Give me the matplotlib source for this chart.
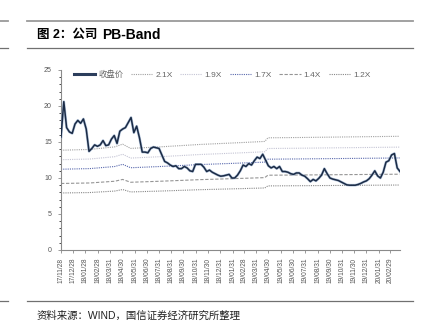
import pandas as pd
import matplotlib.pyplot as plt
from matplotlib.lines import Line2D
from matplotlib.ticker import MultipleLocator

plt.rcParams['font.family'] = ['Liberation Sans', 'Noto Sans CJK SC', 'DejaVu Sans']

# weekly closing price
price_start = '2017-11-28'
close_price = [
    15.7, 20.6, 17.0, 16.4, 16.2, 17.5, 18.0, 17.6, 18.2, 16.8,
    13.7, 14.1, 14.6, 14.4, 14.6, 15.2, 14.5, 14.6, 15.4, 15.9,
    14.8, 16.5, 16.8, 17.0, 17.7, 18.4, 16.3, 17.2, 15.6, 13.6,
    13.6, 13.5, 14.1, 14.3, 14.2, 14.1, 13.2, 12.3, 12.1, 11.8,
    11.6, 11.7, 11.3, 11.3, 11.6, 11.4, 11.0, 10.9, 11.9, 11.9,
    11.9, 11.5, 10.9, 11.1, 10.8, 10.6, 10.4, 10.25, 10.3, 10.4,
    10.5, 10.0, 10.0, 10.4, 11.0, 11.8, 11.6, 12.0, 11.8, 12.4,
    12.9, 12.7, 13.3, 12.5, 11.7, 11.4, 11.6, 11.3, 11.6, 10.9,
    10.9, 10.8, 10.6, 10.5, 10.7, 10.7, 10.4, 10.25, 9.9, 9.5,
    9.8, 9.6, 9.95, 10.4, 11.3, 10.6, 10.0, 9.85, 9.75, 9.65,
    9.45, 9.25, 9.05, 9.0, 9.0, 9.0, 9.1, 9.25, 9.45, 9.6,
    9.9, 10.4, 11.0, 10.3, 10.0, 10.8, 12.2, 12.4, 13.2, 13.4,
    11.4, 10.9,
]

# book value per share behind the bands
bps_dates = ['2017-11-28', '2018-02-08', '2018-04-11', '2018-05-01', '2018-05-21',
             '2018-08-02', '2018-11-10', '2019-02-18', '2019-04-21', '2019-04-29',
             '2019-07-17', '2020-03-23']
bps_values = [6.60, 6.65, 6.82, 7.00, 6.72, 6.82, 6.98, 7.10, 7.18, 7.42, 7.44, 7.52]

pb_multiples = [2.1, 1.9, 1.7, 1.4, 1.2]
pb_labels = ['2.1X', '1.9X', '1.7X', '1.4X', '1.2X']

tick_dates = ['2017-11-28', '2017-12-28', '2018-01-28', '2018-02-28', '2018-03-31',
              '2018-04-30', '2018-05-31', '2018-06-30', '2018-07-31', '2018-08-31',
              '2018-09-30', '2018-10-31', '2018-11-30', '2018-12-31', '2019-01-31',
              '2019-02-28', '2019-03-31', '2019-04-30', '2019-05-31', '2019-06-30',
              '2019-07-31', '2019-08-31', '2019-09-30', '2019-10-31', '2019-11-30',
              '2019-12-31', '2020-01-31', '2020-02-29']
tick_labels = [d[2:].replace('-', '/') for d in tick_dates]

price_dates = pd.date_range(price_start, periods=len(close_price), freq='7D')
bps = pd.Series(bps_values, index=pd.to_datetime(bps_dates))

band_styles = [
    dict(color='#a0a0a0', ls=(0, (1, 1))),
    dict(color='#c4c4d4', ls=(0, (1, 1))),
    dict(color='#5767ac', ls=(0, (1, 1))),
    dict(color='#959595', ls=(0, (3, 1.5))),
    dict(color='#888888', ls=(0, (1, 1))),
]

fig = plt.figure(figsize=(4.28, 3.34), dpi=100)
ax = fig.add_axes([61 / 428, 1 - 250 / 334, 339 / 428, 180 / 334])

ax.plot(price_dates, close_price, color='#7f9cc4', lw=1.9, alpha=0.6, zorder=4)
ax.plot(price_dates, close_price, color='#1b2b45', lw=1.1, label='收盘价', zorder=5)
for m, lab, st in zip(pb_multiples, pb_labels, band_styles):
    ax.plot(bps.index, bps.values * m, lw=0.8, label=lab, **st)

ax.set_ylim(0, 25)
ax.set_xlim(pd.Timestamp('2017-11-28'), pd.Timestamp('2020-03-24'))
ax.yaxis.set_major_locator(MultipleLocator(5))
ax.yaxis.set_minor_locator(MultipleLocator(1))
ax.set_xticks(pd.to_datetime(tick_dates))
ax.set_xticklabels(tick_labels, rotation=90)

for s in ['top', 'right']:
    ax.spines[s].set_visible(False)
for s in ['left', 'bottom']:
    ax.spines[s].set_color('#8a8a8a')
    ax.spines[s].set_linewidth(0.8)
ax.tick_params(axis='both', colors='#8a8a8a', labelcolor='#555555', width=0.6)
ax.tick_params(axis='y', which='major', length=2.5, labelsize=5, pad=4)
ax.tick_params(axis='y', which='minor', length=1.5, width=0.5)
ax.tick_params(axis='x', length=2.5, labelsize=4.8, pad=3)

leg = ax.legend(loc='upper center', bbox_to_anchor=(0.475, 1.04), ncol=6, frameon=False,
                fontsize=6, handlelength=2.6, handletextpad=0.35, columnspacing=0.9)
for t in leg.get_texts():
    t.set_color('#666666')
leg.get_lines()[0].set_linewidth(2.2)
leg.get_lines()[0].set_color('#2c3e5c')

# page decoration lines
for y, c, lw in [(21, '#9a9a9a', 1.3), (48, '#707070', 0.9), (301, '#707070', 0.9)]:
    yf = 1 - y / 334
    fig.add_artist(Line2D([27 / 428, 413 / 428], [yf, yf], color=c, lw=lw, transform=fig.transFigure))
    fig.add_artist(Line2D([0, 8 / 428], [yf, yf], color=c, lw=lw, transform=fig.transFigure))

fig.text(37 / 428, 1 - 35 / 334, '图 2：公司', fontsize=9, fontweight='bold', va='center')
fig.text(102 / 428, 1 - 35 / 334, 'PB-Band', fontsize=10, fontweight='bold', va='center')
fig.text(37 / 428, 1 - 316 / 334, '资料来源：WIND，国信证券经济研究所整理', fontsize=7.5, va='center',
         color='#222222')

fig.savefig('out.png', dpi=100)
